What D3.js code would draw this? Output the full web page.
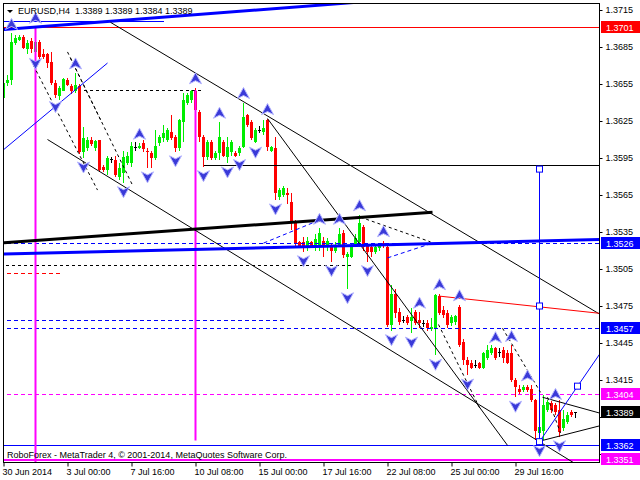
<!DOCTYPE html>
<html><head><meta charset="utf-8">
<script src="https://cdn.jsdelivr.net/npm/d3@7"></script>
<style>body{margin:0;background:#fff}svg{display:block;font-family:"Liberation Sans",Arial,sans-serif}</style>
</head><body>
<script>
// ---------- DATA (EURUSD H4, 30 Jun 08:00 -> 31 Jul 2014) ----------
const barOpen=[
1.3644,1.3656,1.3658,1.3688,1.3691,1.3693,1.3683,1.3690,1.3681,1.3689,
1.3679,1.3679,1.3673,1.3656,1.3645,1.3649,1.3658,1.3653,1.3649,1.3653,
1.3600,1.3603,1.3610,1.3603,1.3610,1.3588,1.3585,1.3594,1.3593,1.3580,
1.3583,1.3591,1.3591,1.3604,1.3603,1.3607,1.3601,1.3599,1.3595,1.3607,
1.3611,1.3610,1.3616,1.3612,1.3603,1.3624,1.3640,1.3642,1.3649,1.3632,
1.3612,1.3596,1.3608,1.3595,1.3599,1.3608,1.3596,1.3600,1.3599,1.3599,
1.3604,1.3630,1.3624,1.3608,1.3618,1.3616,1.3626,1.3601,1.3603,1.3563,
1.3565,1.3567,1.3559,1.3542,1.3527,1.3527,1.3523,1.3527,1.3523,1.3524,
1.3528,1.3523,1.3524,1.3520,1.3524,1.3534,1.3515,1.3515,1.3524,1.3527,
1.3539,1.3524,1.3523,1.3519,1.3522,1.3526,1.3523,1.3460,1.3485,1.3470,
1.3464,1.3466,1.3463,1.3470,1.3464,1.3461,1.3461,1.3456,1.3457,1.3483,
1.3472,1.3469,1.3461,1.3462,1.3474,1.3446,1.3431,1.3429,1.3427,1.3429,
1.3425,1.3433,1.3437,1.3441,1.3438,1.3439,1.3437,1.3437,1.3415,1.3408,
1.3407,1.3409,1.3408,1.3399,1.3372,1.3374,1.3391,1.3396,1.3395,1.3391,
1.3376,1.3381,1.3389,1.3389];
const barHigh=[
1.3658,1.3662,1.3696,1.3695,1.3695,1.3695,1.3691,1.3692,1.3701,1.3691,
1.3683,1.3680,1.3681,1.3658,1.3653,1.3660,1.3660,1.3655,1.3664,1.3655,
1.3620,1.3612,1.3612,1.3610,1.3610,1.3589,1.3597,1.3596,1.3597,1.3591,
1.3601,1.3600,1.3608,1.3608,1.3607,1.3610,1.3603,1.3601,1.3618,1.3614,
1.3622,1.3619,1.3630,1.3614,1.3627,1.3648,1.3648,1.3650,1.3652,1.3634,
1.3614,1.3610,1.3610,1.3601,1.3624,1.3610,1.3612,1.3610,1.3601,1.3605,
1.3640,1.3631,1.3626,1.3619,1.3621,1.3626,1.3627,1.3605,1.3612,1.3571,
1.3572,1.3571,1.3567,1.3545,1.3528,1.3531,1.3531,1.3528,1.3533,1.3538,
1.3531,1.3530,1.3526,1.3527,1.3538,1.3537,1.3519,1.3526,1.3533,1.3549,
1.3541,1.3526,1.3524,1.3524,1.3526,1.3528,1.3526,1.3492,1.3489,1.3473,
1.3467,1.3468,1.3473,1.3472,1.3470,1.3464,1.3464,1.3465,1.3485,1.3485,
1.3475,1.3472,1.3468,1.3468,1.3476,1.3448,1.3434,1.3431,1.3431,1.3430,
1.3438,1.3443,1.3443,1.3442,1.3441,1.3442,1.3439,1.3443,1.3417,1.3411,
1.3411,1.3411,1.3411,1.3400,1.3378,1.3403,1.3399,1.3398,1.3396,1.3399,
1.3391,1.3389,1.3391,1.3389];
const barLow=[
1.3640,1.3653,1.3654,1.3687,1.3690,1.3683,1.3679,1.3680,1.3679,1.3675,
1.3675,1.3668,1.3654,1.3644,1.3642,1.3649,1.3653,1.3647,1.3648,1.3598,
1.3595,1.3601,1.3605,1.3601,1.3584,1.3584,1.3581,1.3591,1.3580,1.3577,
1.3575,1.3589,1.3588,1.3601,1.3602,1.3600,1.3587,1.3587,1.3593,1.3605,
1.3608,1.3608,1.3610,1.3600,1.3601,1.3608,1.3638,1.3640,1.3631,1.3608,
1.3588,1.3593,1.3593,1.3593,1.3593,1.3596,1.3591,1.3597,1.3596,1.3597,
1.3603,1.3620,1.3610,1.3607,1.3615,1.3614,1.3601,1.3600,1.3561,1.3561,
1.3563,1.3558,1.3537,1.3524,1.3523,1.3519,1.3520,1.3522,1.3520,1.3520,
1.3515,1.3520,1.3511,1.3518,1.3523,1.3514,1.3489,1.3514,1.3523,1.3523,
1.3520,1.3511,1.3515,1.3517,1.3520,1.3522,1.3458,1.3455,1.3465,1.3460,
1.3461,1.3460,1.3453,1.3460,1.3457,1.3458,1.3455,1.3455,1.3435,1.3468,
1.3465,1.3457,1.3459,1.3460,1.3442,1.3427,1.3419,1.3424,1.3425,1.3424,
1.3424,1.3431,1.3435,1.3431,1.3434,1.3429,1.3428,1.3413,1.3401,1.3404,
1.3405,1.3405,1.3397,1.3366,1.3365,1.3366,1.3389,1.3388,1.3387,1.3369,
1.3374,1.3379,1.3385,1.3384];
const barClose=[
1.3656,1.3658,1.3689,1.3692,1.3693,1.3684,1.3688,1.3683,1.3689,1.3677,
1.3677,1.3672,1.3656,1.3646,1.3652,1.3659,1.3654,1.3649,1.3654,1.3600,
1.3611,1.3610,1.3606,1.3609,1.3585,1.3585,1.3595,1.3594,1.3581,1.3587,
1.3596,1.3597,1.3605,1.3604,1.3605,1.3602,1.3600,1.3595,1.3605,1.3612,
1.3615,1.3618,1.3611,1.3603,1.3626,1.3642,1.3646,1.3649,1.3634,1.3612,
1.3596,1.3608,1.3595,1.3599,1.3612,1.3597,1.3604,1.3608,1.3597,1.3603,
1.3628,1.3622,1.3611,1.3618,1.3618,1.3619,1.3604,1.3604,1.3567,1.3569,
1.3571,1.3565,1.3542,1.3526,1.3524,1.3523,1.3528,1.3524,1.3529,1.3534,
1.3523,1.3528,1.3520,1.3524,1.3533,1.3516,1.3517,1.3524,1.3530,1.3542,
1.3523,1.3519,1.3519,1.3523,1.3524,1.3524,1.3460,1.3485,1.3469,1.3462,
1.3464,1.3461,1.3466,1.3461,1.3461,1.3461,1.3457,1.3458,1.3484,1.3469,
1.3468,1.3460,1.3466,1.3467,1.3443,1.3431,1.3427,1.3425,1.3427,1.3425,
1.3437,1.3439,1.3441,1.3433,1.3438,1.3433,1.3429,1.3415,1.3409,1.3405,
1.3409,1.3407,1.3399,1.3374,1.3377,1.3395,1.3397,1.3391,1.3389,1.3373,
1.3383,1.3387,1.3387,1.3389];

const timeTickIndex=[0,16,32,48,64,80,96,112,128];
const timeTickLabels=["30 Jun 2014","3 Jul 00:00","7 Jul 16:00","10 Jul 08:00","15 Jul 00:00","17 Jul 16:00","22 Jul 08:00","25 Jul 00:00","29 Jul 16:00"];
const priceTicks=[1.3715,1.3685,1.3655,1.3625,1.3595,1.3565,1.3535,1.3505,1.3475,1.3445,1.3415,1.3385,1.3355];
const hiddenTickLabels=[1.3385,1.3355]; // covered by the price boxes in the original
const levelPrices=[1.3701,1.3526,1.3457,1.3404,1.3389,1.3362,1.3351];
const levelKinds=["red","blue","blue","magenta","black","blue","magenta"];

const fractalUp=[2,8,18,34,48,54,60,66,79,84,89,95,104,109,114,123,127,131,138];
const fractalDown=[8,13,20,30,36,43,50,56,59,63,68,75,82,86,91,97,102,108,116,128,134,139];

const RIGHT=149.25; // right edge of plot, in bar units
// horizontal objects: [price, fromBar, toBar]
const hLines=[[1.3701,-1,RIGHT],[1.3526,-1,RIGHT],[1.3457,-1,RIGHT],[1.3404,-1,RIGHT],[1.3362,-1,RIGHT],[1.3351,-1,RIGHT],
  [1.3589,50,RIGHT],[1.3650,20,50],[1.3508,-1,87],[1.3502,-1,14],[1.3464,-1,70],[1.3706,-1,40]];
const hLineKinds=["red","blueDash","blueDash","magentaDash","blue","magentaThick","black","blackDash","blackDash","redDash","blueDash","blue"];
// trend objects: [bar1, price1, bar2, price2]
const trendLines=[[-1,1.3699,87.5,1.3721],[-1,1.3599,26,1.3672],[26.75,1.3705,RIGHT,1.3468],[11,1.3610,142.5,1.3348],
  [66,1.3627,126,1.3362],[-1,1.3526,107.25,1.3551],[-1,1.3517,RIGHT,1.3529],[109,1.3483,RIGHT,1.3469],
  [134.75,1.3401,RIGHT,1.3388],[134.75,1.3366,RIGHT,1.3378],[134,1.3586,134,1.3362],[134,1.3365,RIGHT,1.3437],
  [7.5,1.3670,23.5,1.3569],[16,1.3681,32.25,1.3573],[16.75,1.3676,24.25,1.3626],[89.25,1.3547,106.75,1.3527],
  [108.75,1.3460,119.25,1.3391],[124.75,1.3457,134.25,1.3405],[136,1.3401,139.25,1.3372],
  [65,1.3526,79.25,1.3545],[96,1.3514,107.25,1.3526]];
const trendKinds=["blueThick","blue","black","black","black","blackThick","blueThick","red","black","black","blue","blue",
  "blackDash","blackDash","blackDash","blackDash","blackDash","blackDash","blackDash","blueDash","blueDash"];
const vLines=[[8,1.3701,1.3340],[48,1.3650,1.3366]];
const anchorPoints=[[134,1.3586],[134,1.3475],[134,1.3365],[143.5,1.3410]];

// ---------- DRAW ----------
const styles={
 red:{c:"#ff0000",w:1,d:null}, redDash:{c:"#ff0000",w:1,d:"4,3"},
 blue:{c:"#0000ff",w:1,d:null}, blueDash:{c:"#0000ff",w:1,d:"4,3"}, blueThick:{c:"#0000ff",w:3,d:null},
 black:{c:"#000000",w:1,d:null}, blackDash:{c:"#000000",w:1,d:"3,3"}, blackThick:{c:"#000000",w:3,d:null},
 magentaDash:{c:"#ff00ff",w:1,d:"4,3"}, magentaThick:{c:"#ff00ff",w:2,d:null}
};
const levelBg={red:"#ff0000",blue:"#0000ff",magenta:"#ff00ff",black:"#000000"};

const svg=d3.select("body").append("svg").attr("width",640).attr("height",480);
const x=d3.scaleLinear().domain([0,1]).range([3.5,7.5]);
const y=d3.scaleLinear().domain([1.3715,1.3355]).range([10,454]);

svg.append("clipPath").attr("id","plot").append("rect").attr("x",4).attr("y",4).attr("width",595).attr("height",458);
const g=svg.append("g").attr("clip-path","url(#plot)");

const idx=d3.range(barOpen.length);
const col=i=>barClose[i]>barOpen[i]?"#00ee00":(barClose[i]<barOpen[i]?"#ff0000":"#000000");
g.append("g").attr("shape-rendering","crispEdges").selectAll("line").data(idx).join("line")
 .attr("x1",i=>x(i)).attr("x2",i=>x(i)).attr("y1",i=>y(barHigh[i])).attr("y2",i=>y(barLow[i])).attr("stroke",col);
g.append("g").attr("shape-rendering","crispEdges").selectAll("rect").data(idx).join("rect")
 .attr("x",i=>x(i)-1.5).attr("width",3)
 .attr("y",i=>Math.min(y(barOpen[i]),y(barClose[i])))
 .attr("height",i=>Math.max(1,Math.abs(y(barOpen[i])-y(barClose[i]))))
 .attr("fill",col);

// horizontal objects
g.append("g").attr("shape-rendering","crispEdges").selectAll("line").data(hLines).join("line")
 .attr("x1",d=>x(d[1])).attr("x2",d=>x(d[2])).attr("y1",d=>Math.round(y(d[0]))+0.5).attr("y2",d=>Math.round(y(d[0]))+0.5)
 .attr("stroke",(d,k)=>styles[hLineKinds[k]].c).attr("stroke-width",(d,k)=>styles[hLineKinds[k]].w)
 .attr("stroke-dasharray",(d,k)=>styles[hLineKinds[k]].d);
// vertical magenta lines
g.append("g").selectAll("line").data(vLines).join("line")
 .attr("x1",d=>x(d[0])).attr("x2",d=>x(d[0])).attr("y1",d=>y(d[1])).attr("y2",d=>y(d[2]))
 .attr("stroke","#ff00ff").attr("stroke-width",2);
// trend objects
g.append("g").selectAll("line").data(trendLines).join("line")
 .attr("x1",d=>x(d[0])).attr("y1",d=>y(d[1])).attr("x2",d=>x(d[2])).attr("y2",d=>y(d[3]))
 .attr("stroke",(d,k)=>styles[trendKinds[k]].c).attr("stroke-width",(d,k)=>styles[trendKinds[k]].w)
 .attr("stroke-dasharray",(d,k)=>styles[trendKinds[k]].d);
g.append("g").selectAll("rect").data(anchorPoints).join("rect")
 .attr("x",d=>x(d[0])-3).attr("y",d=>y(d[1])-3).attr("width",6).attr("height",6)
 .attr("fill","#fff").attr("stroke","#0000ff").attr("stroke-width",1);

// fractal arrows
const upPath="M0,-6 L6,5 L0,2 L-6,5 Z", dnPath="M0,6 L6,-5 L0,-2 L-6,-5 Z";
g.append("g").selectAll("path").data(fractalUp).join("path").attr("d",upPath)
 .attr("transform",i=>`translate(${x(i)},${y(barHigh[i])-9})`)
 .attr("fill","#3a3ad8").attr("stroke","#b4b4ff").attr("stroke-width",1);
g.append("g").selectAll("path").data(fractalDown).join("path").attr("d",dnPath)
 .attr("transform",i=>`translate(${x(i)},${y(barLow[i])+9})`)
 .attr("fill","#3a3ad8").attr("stroke","#b4b4ff").attr("stroke-width",1);

// frame
svg.append("rect").attr("x",3.5).attr("y",3.5).attr("width",596).attr("height",459)
 .attr("fill","none").attr("stroke","#000").attr("shape-rendering","crispEdges");

// price axis
const ya=svg.append("g").attr("transform","translate(599.5,0)")
 .call(d3.axisRight(y).tickValues(priceTicks)
   .tickFormat(d=>hiddenTickLabels.includes(d)?"":d3.format(".4f")(d)).tickSize(3).tickPadding(3));
ya.select(".domain").remove();
ya.selectAll("text").attr("font-size",9).attr("font-family","Liberation Sans, Arial, sans-serif").attr("fill","#000");
ya.selectAll("line").attr("stroke","#000");

// time axis
const xa=svg.append("g").attr("transform","translate(0,462.5)")
 .call(d3.axisBottom(x).tickValues(timeTickIndex).tickFormat((d,k)=>timeTickLabels[k]).tickSize(4).tickPadding(2));
xa.select(".domain").remove();
xa.selectAll("text").attr("text-anchor","start").attr("dx",-1.5).attr("font-size",9)
 .attr("font-family","Liberation Sans, Arial, sans-serif").attr("fill","#000");
xa.selectAll("line").attr("stroke","#000");

// level price boxes
const lv=svg.append("g").selectAll("g").data(levelPrices).join("g");
lv.append("rect").attr("x",601).attr("width",39).attr("y",p=>Math.round(y(p))-6).attr("height",12)
 .attr("fill",(p,k)=>levelBg[levelKinds[k]]);
lv.append("text").attr("x",606).attr("y",p=>Math.round(y(p))+3.5).attr("font-size",9).attr("fill","#fff")
 .text(p=>d3.format(".4f")(p));

// header
svg.append("path").attr("d","M7,10 L13,10 L10,13 Z").attr("fill","#000");
svg.append("text").attr("x",18).attr("y",14).attr("font-size",9).attr("fill","#000")
 .attr("xml:space","preserve").style("white-space","pre")
 .text("EURUSD,H4  "+[barClose[barClose.length-1],barHigh[barHigh.length-1],barLow[barLow.length-1],barClose[barClose.length-1]].map(d3.format(".4f")).join(" "));
// footer
svg.append("text").attr("x",7).attr("y",458).attr("font-size",9).attr("fill","#000")
 .text("RoboForex - MetaTrader 4, © 2001-2014, MetaQuotes Software Corp.");
</script>
</body></html>
